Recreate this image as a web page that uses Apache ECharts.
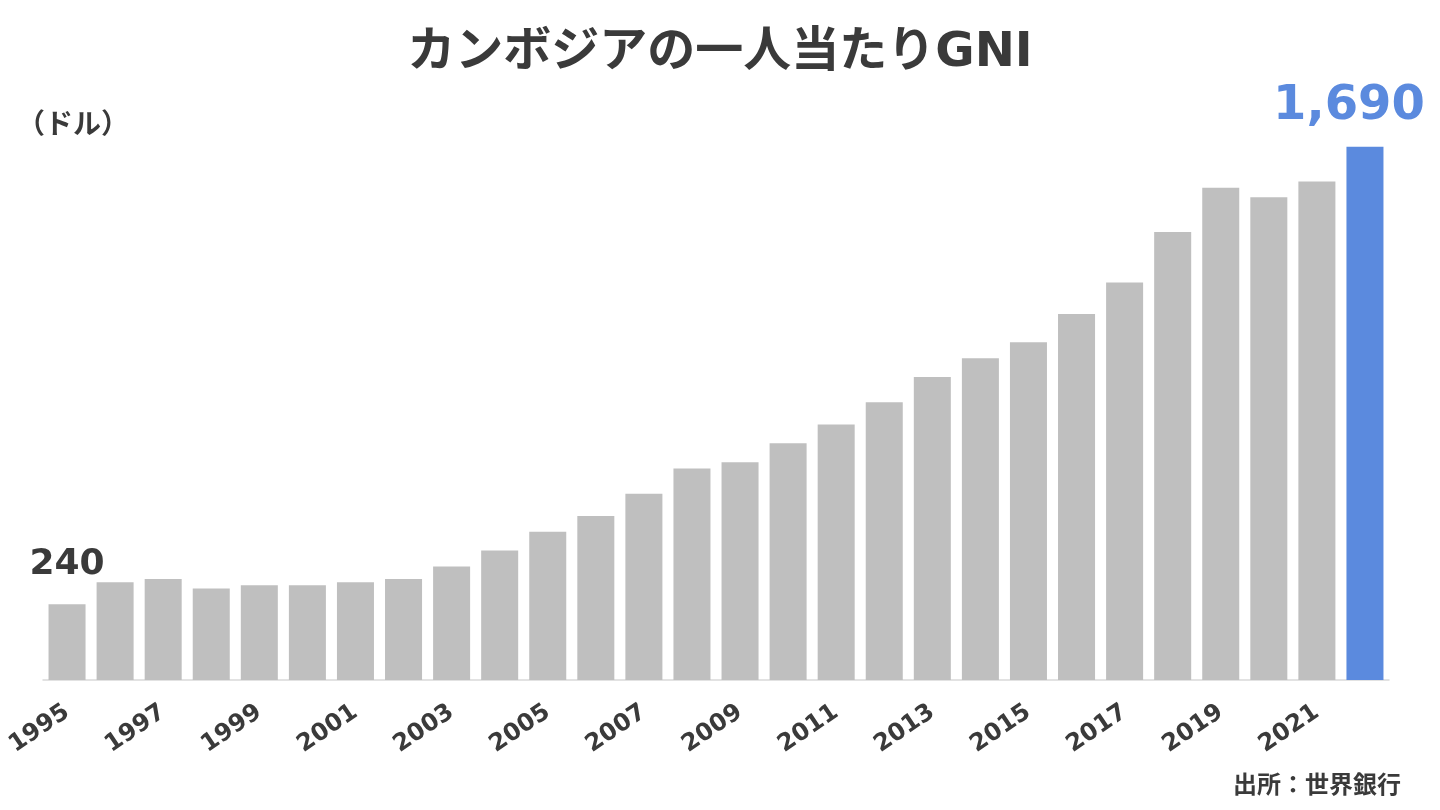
<!DOCTYPE html>
<html><head><meta charset="utf-8">
<script src="https://cdn.jsdelivr.net/npm/echarts@6/dist/echarts.min.js"></script>
<style>html,body{margin:0;padding:0;background:#fff}#c{width:1440px;height:810px}</style>
</head><body><div id="c"></div>
<script>
const years = ['1995','1996','1997','1998','1999','2000','2001','2002','2003','2004','2005','2006','2007','2008','2009','2010','2011','2012','2013','2014','2015','2016','2017','2018','2019','2020','2021','2022'];
const gni = [240,310,320,290,300,300,310,320,360,410,470,520,590,670,690,750,810,880,960,1020,1070,1160,1260,1420,1560,1530,1580,1690];
const titleText = 'カンボジアの一人当たりGNI';
const unitText = '（ドル）';
const sourceText = '出所：世界銀行';

const FONT = '"DejaVu Sans", "Noto Sans CJK JP", sans-serif';
const last = gni.length - 1;
const data = gni.map((v, i) => {
  const item = { value: v, itemStyle: { color: i === last ? '#5b8ade' : '#bfbfbf' } };
  if (i === 0) {
    item.label = { show: true, position: 'top', distance: 22, fontSize: 36, fontWeight: 'bold', color: '#3a3a3a', fontFamily: FONT };
  } else if (i === last) {
    item.label = { show: true, position: 'top', distance: 16, offset: [-16, 0], fontSize: 48, fontWeight: 'bold', color: '#5b8ade', fontFamily: FONT,
      formatter: p => p.value.toLocaleString('en-US') };
  }
  return item;
});

const chart = echarts.init(document.getElementById('c'));
chart.setOption({
  animation: false,
  title: [
    { text: titleText, left: 'center', top: 25, textStyle: { fontSize: 48, fontWeight: 'bold', color: '#3a3a3a', fontFamily: FONT } },
    { text: unitText, left: 12, top: 108, textStyle: { fontSize: 28, fontWeight: 'bold', color: '#3a3a3a', fontFamily: FONT } },
    { text: sourceText, right: 34, top: 770, textStyle: { fontSize: 24, fontWeight: 'bold', color: '#3a3a3a', fontFamily: FONT } }
  ],
  grid: { left: 43, right: 51, top: 112, bottom: 130, containLabel: false },
  xAxis: {
    type: 'category', data: years,
    axisLine: { show: true, lineStyle: { color: '#d9d9d9', width: 1.5 } },
    axisTick: { show: false },
    axisLabel: { interval: 1, rotate: 34, fontSize: 24, fontWeight: 'bold', color: '#3a3a3a', fontFamily: FONT, margin: 30 }
  },
  yAxis: { type: 'value', min: 0, max: 1800, show: false, splitLine: { show: false } },
  series: [{ type: 'bar', data: data, barCategoryGap: '23%' }]
});
</script></body></html>
